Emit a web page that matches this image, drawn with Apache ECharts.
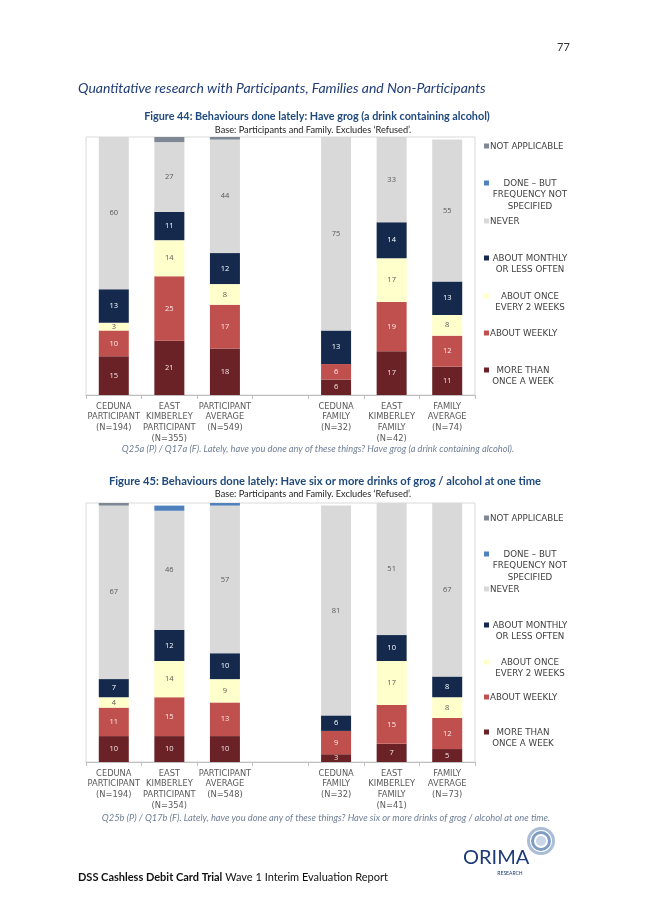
<!DOCTYPE html>
<html><head><meta charset="utf-8">
<script src="https://cdn.jsdelivr.net/npm/echarts@6/dist/echarts.min.js"></script>
<style>html,body{margin:0;padding:0;background:#fff}#c{width:653px;height:923px}</style>
</head><body><div id="c"></div>
<script>
// ---------- DATA ----------
const seriesNames = ['MORE THAN ONCE A WEEK', 'ABOUT WEEKLY', 'ABOUT ONCE EVERY 2 WEEKS', 'ABOUT MONTHLY OR LESS OFTEN', 'NEVER', 'DONE – BUT FREQUENCY NOT SPECIFIED', 'NOT APPLICABLE'];
const legendLabels = ['MORE THAN\nONCE A WEEK', 'ABOUT WEEKLY', 'ABOUT ONCE\nEVERY 2 WEEKS', 'ABOUT MONTHLY\nOR LESS OFTEN', 'NEVER', 'DONE – BUT\nFREQUENCY NOT\nSPECIFIED', 'NOT APPLICABLE'];

const categories44 = ['CEDUNA\nPARTICIPANT\n(N=194)', 'EAST\nKIMBERLEY\nPARTICIPANT\n(N=355)', 'PARTICIPANT\nAVERAGE\n(N=549)', '', 'CEDUNA\nFAMILY\n(N=32)', 'EAST\nKIMBERLEY\nFAMILY\n(N=42)', 'FAMILY\nAVERAGE\n(N=74)'];
const moreThanWeekly44 = [15, 21, 18, null, 6, 17, 11];
const weekly44        = [10, 25, 17, null, 6, 19, 12];
const fortnightly44   = [3, 14, 8, null, 0, 17, 8];
const monthly44       = [13, 11, 12, null, 13, 14, 13];
const never44         = [60, 27, 44, null, 75, 33, 55];
const doneUnspec44    = [0, 0, 0, null, 0, 0, 0];
const notApplicable44 = [0, 2, 1, null, 0, 0, 0];

const categories45 = ['CEDUNA\nPARTICIPANT\n(N=194)', 'EAST\nKIMBERLEY\nPARTICIPANT\n(N=354)', 'PARTICIPANT\nAVERAGE\n(N=548)', '', 'CEDUNA\nFAMILY\n(N=32)', 'EAST\nKIMBERLEY\nFAMILY\n(N=41)', 'FAMILY\nAVERAGE\n(N=73)'];
const moreThanWeekly45 = [10, 10, 10, null, 3, 7, 5];
const weekly45        = [11, 15, 13, null, 9, 15, 12];
const fortnightly45   = [4, 14, 9, null, 0, 17, 8];
const monthly45       = [7, 12, 10, null, 6, 10, 8];
const never45         = [67, 46, 57, null, 81, 51, 67];
const doneUnspec45    = [0, 2, 1, null, 0, 0, 0];
const notApplicable45 = [1, 0, 0, null, 0, 0, 0];

// ---------- STYLE ----------
const colors = ['#6a2227', '#c0504d', '#ffffcc', '#14294c', '#d9d9d9', '#4f81bd', '#7d8894'];
const labelColors = ['#f2e6e6', '#fbecec', '#595959', '#ffffff', '#595959', '#fff', '#fff'];
const UI = 'DejaVu Sans';

const data44 = [moreThanWeekly44, weekly44, fortnightly44, monthly44, never44, doneUnspec44, notApplicable44];
const data45 = [moreThanWeekly45, weekly45, fortnightly45, monthly45, never45, doneUnspec45, notApplicable45];

function makeSeries(idx, arrays) {
  return arrays.map((arr, i) => ({
    name: seriesNames[i], type: 'bar', stack: 'fig' + idx,
    xAxisIndex: idx, yAxisIndex: idx, barWidth: 30,
    itemStyle: { color: colors[i] },
    label: { show: true, position: 'inside', fontSize: 7.5, fontFamily: 'Open Sans', color: labelColors[i],
      formatter: p => (p.value >= 3 ? String(p.value) : '') },
    data: arr
  }));
}

function xAxis(idx, cats) {
  return {
    type: 'category', gridIndex: idx, data: cats,
    axisLine: { lineStyle: { color: '#bfbfbf' } },
    axisTick: { show: true, length: 4, lineStyle: { color: '#bfbfbf' } },
    axisLabel: { interval: 0, fontSize: 8.3, fontFamily: UI, color: '#595959', lineHeight: 10.8, margin: 6 }
  };
}
function yAxis(idx) {
  return { type: 'value', gridIndex: idx, min: 0, max: 100, show: false };
}

function legendGraphic(top, ys) {
  const order = [6, 5, 4, 3, 2, 1, 0];
  const els = [];
  order.forEach((si, k) => {
    const y = top + ys[k];
    const multi = legendLabels[si].indexOf('\n') >= 0;
    els.push({ type: 'rect', shape: { x: 484, y: y - 2.5, width: 5, height: 5 }, style: { fill: colors[si] } });
    els.push({ type: 'text', style: {
      text: legendLabels[si], x: multi ? (si === 0 ? 523 : 530) : 490, y: y - 5.5,
      textAlign: multi ? 'center' : 'left', textVerticalAlign: 'top',
      fontSize: 8.7, fontFamily: UI, fill: '#404040', lineHeight: 11.5 } });
  });
  return els;
}

const chart = echarts.init(document.getElementById('c'), null, { renderer: 'canvas' });
const txt = (text, x, y, o) => ({ type: 'text', style: Object.assign({ text, x, y, textVerticalAlign: 'middle' }, o) });

const option = {
  animation: false,
  backgroundColor: '#ffffff',
  grid: [
    { left: 86, right: 178, top: 137, height: 258, show: true, borderColor: '#d9d9d9', borderWidth: 1 },
    { left: 86, right: 178, top: 503, height: 259, show: true, borderColor: '#d9d9d9', borderWidth: 1 }
  ],
  xAxis: [xAxis(0, categories44), xAxis(1, categories45)],
  yAxis: [yAxis(0), yAxis(1)],
  series: makeSeries(0, data44).concat(makeSeries(1, data45)),
  graphic: [
    txt('77', 557, 47, { fontSize: 11, fontFamily: 'Lato', fill: '#333' }),
    txt('Quantitative research with Participants, Families and Non-Participants', 78, 88,
      { fontSize: 14, fontFamily: 'Lato', fontStyle: 'italic', fill: '#203d78' }),
    txt('Figure 44: Behaviours done lately: Have grog (a drink containing alcohol)', 317, 117,
      { textAlign: 'center', fontSize: 10.8, fontWeight: 'bold', fontFamily: 'Lato', fill: '#1f497d' }),
    txt('Base: Participants and Family. Excludes \u2018Refused\u2019.', 313, 130,
      { textAlign: 'center', fontSize: 9.2, fontFamily: 'Lato', fill: '#222' }),
    txt('Q25a (P) / Q17a (F). Lately, have you done any of these things? Have grog (a drink containing alcohol).', 318, 449,
      { textAlign: 'center', fontSize: 9.3, fontFamily: 'Lato', fontStyle: 'italic', fill: '#6f7f95' }),
    txt('Figure 45: Behaviours done lately: Have six or more drinks of grog / alcohol at one time', 325, 481,
      { textAlign: 'center', fontSize: 11.2, fontWeight: 'bold', fontFamily: 'Lato', fill: '#1f497d' }),
    txt('Base: Participants and Family. Excludes \u2018Refused\u2019.', 313, 494,
      { textAlign: 'center', fontSize: 9.2, fontFamily: 'Lato', fill: '#222' }),
    txt('Q25b (P) / Q17b (F). Lately, have you done any of these things? Have six or more drinks of grog / alcohol at one time.', 326, 818,
      { textAlign: 'center', fontSize: 9.3, fontFamily: 'Lato', fontStyle: 'italic', fill: '#6f7f95' }),
    { type: 'text', style: { text: '{b|DSS Cashless Debit Card Trial} Wave 1 Interim Evaluation Report', x: 78, y: 877,
      textVerticalAlign: 'middle', fontSize: 11, fontFamily: 'Lato', fill: '#111',
      rich: { b: { fontWeight: 'bold', fontSize: 11, fontFamily: 'Lato', fill: '#111' } } } },
    // ORIMA logo
    { type: 'ring', shape: { cx: 541, cy: 841, r: 14, r0: 11 }, style: { fill: '#a9bdd6' } },
    { type: 'ring', shape: { cx: 541, cy: 841, r: 10, r0: 7 }, style: { fill: '#7f9dc2' } },
    { type: 'circle', shape: { cx: 541, cy: 841, r: 5 }, style: { fill: '#c8d6e8' } },
    txt('ORIMA', 463, 858, { fontSize: 20, fontFamily: 'Lato', fill: '#1d3a78' }),
    txt('RESEARCH', 510, 873, { textAlign: 'center', fontSize: 5, fontFamily: 'Lato', fill: '#1d3a78' })
  ].concat(legendGraphic(130, [16, 53, 91, 128, 166, 203, 240]))
   .concat(legendGraphic(500, [18, 54, 89, 125, 162, 197, 232]))
};
chart.setOption(option);
</script>
</body></html>
